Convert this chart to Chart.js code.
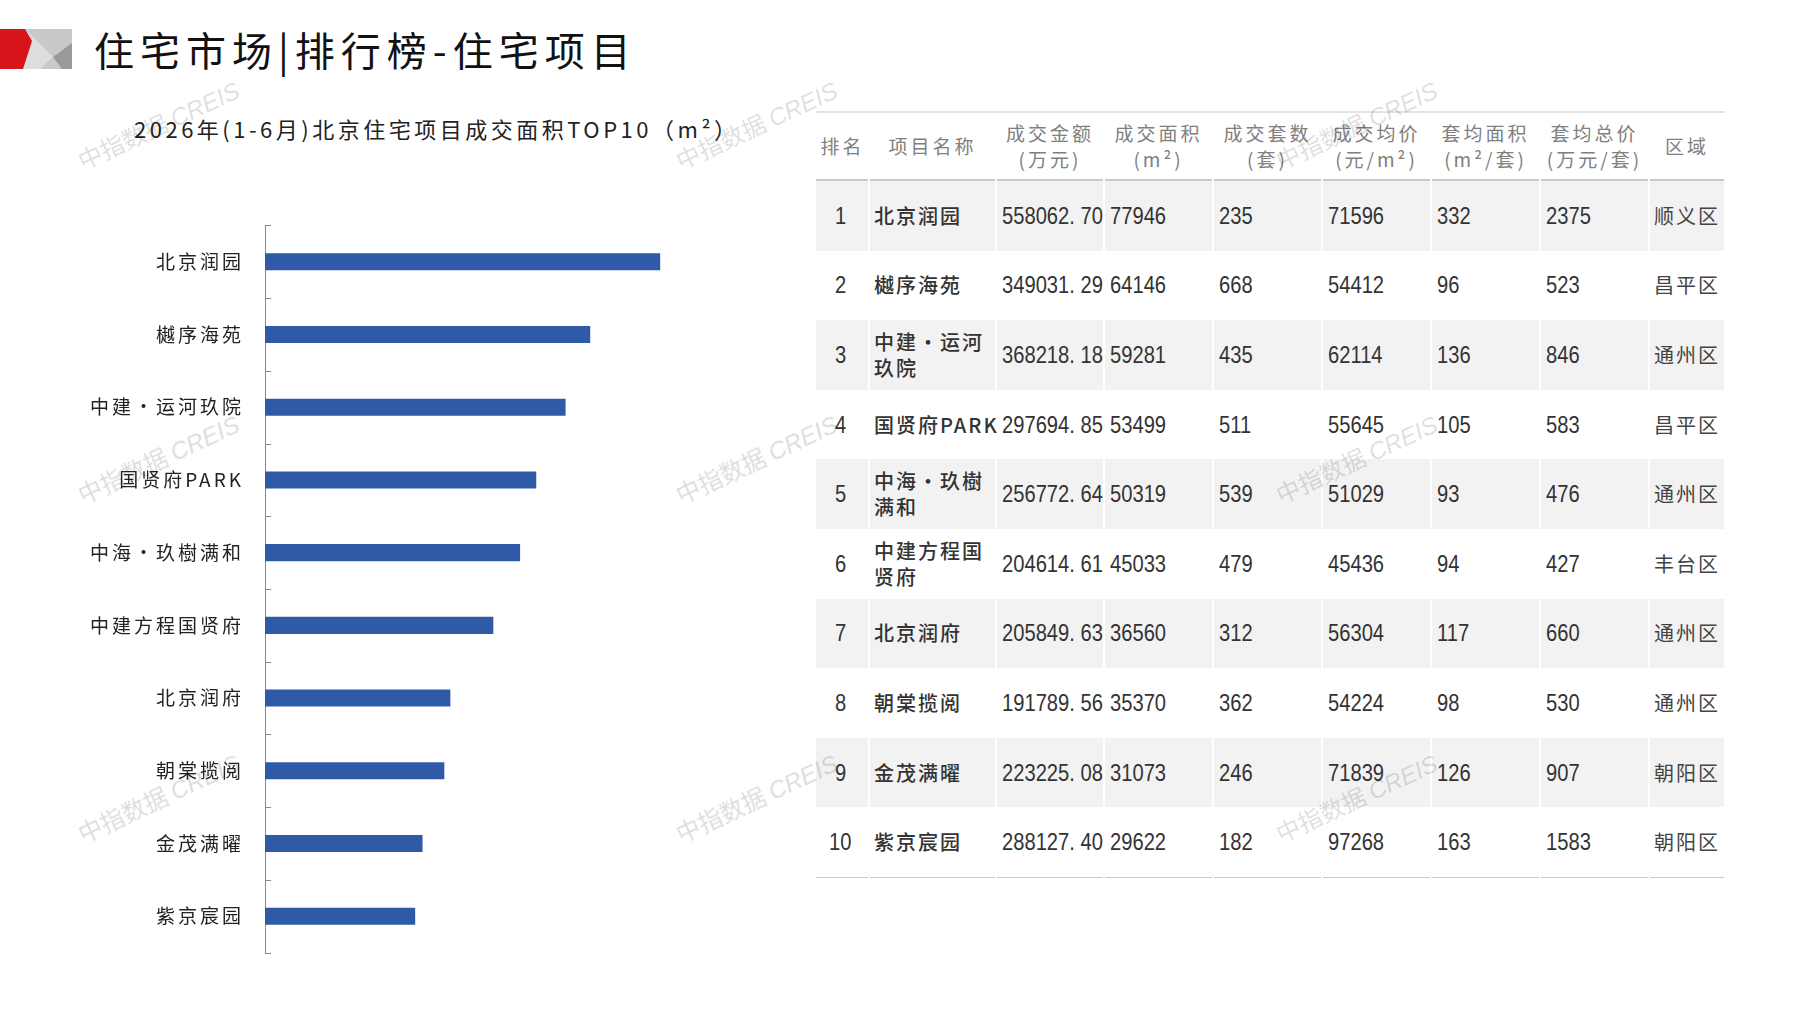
<!DOCTYPE html>
<html>
<head>
<meta charset="utf-8">
<script src="https://cdn.jsdelivr.net/npm/chart.js@4.4.1/dist/chart.umd.min.js"></script>
<style>
body{margin:0;width:1797px;height:1010px;background:#fff;position:relative;overflow:hidden;font-family:"Noto Sans CJK SC",sans-serif;}
#title{position:absolute;left:94px;top:20px;font-size:40px;letter-spacing:6px;color:#111;font-weight:400;}
#subtitle{position:absolute;left:134px;top:112px;font-size:22px;color:#222;letter-spacing:3.5px;}
#chartbox{position:absolute;left:0;top:193px;width:772px;height:792px;}
#tbl{position:absolute;left:816px;top:111px;width:909px;border-collapse:collapse;table-layout:fixed;}
#tbl th{color:#808080;font-weight:400;font-size:19px;line-height:26px;height:66px;padding:0;text-align:center;letter-spacing:3px;}
#tbl thead tr{border-top:2px solid #e3e3e3;border-bottom:2px solid #c8c8c8;}
#tbl td{height:69.6px;padding:0 0 0 5px;font-size:24px;color:#333;font-family:"Liberation Sans",sans-serif;border-right:2px solid #fff;white-space:nowrap;}
#tbl td span.n{display:inline-block;transform:scaleX(0.84);transform-origin:left center;}
#tbl td.cn{font-family:"Noto Sans CJK SC",sans-serif;font-size:20px;letter-spacing:2px;font-weight:500;line-height:26px;white-space:normal;padding-left:4px;}
#tbl td.rk{text-align:center;padding:0;}
#tbl tbody tr:nth-child(odd){background:#f2f2f2;}
#tbl tbody tr:last-child{border-bottom:1px solid #c8c8c8;}
.nm{width:126px;word-break:break-all;}
.wm{position:absolute;font-size:24px;color:rgba(0,0,0,0.14);transform:translate(-50%,-50%) rotate(-25deg);white-space:nowrap;pointer-events:none;font-family:"Noto Sans CJK SC",sans-serif;}
.wm i{font-family:"Liberation Sans",sans-serif;}
</style>
</head>
<body>
<svg style="position:absolute;left:0;top:29px" width="72" height="40">
<rect x="0" y="0" width="72" height="40" fill="#c9c9c9"/>
<polygon points="25,0 53,28 40,40 23,40" fill="#dddddd"/>
<polygon points="72,14 53,28 62,40 72,40" fill="#999999"/>
<polygon points="0,0 25,0 32,12 23,40 0,40" fill="#d7141a"/>
</svg>
<div id="title">住宅市场|排行榜-住宅项目</div>
<div id="subtitle">2026年(1-6月)北京住宅项目成交面积TOP10（m²）</div>
<div id="chartbox"><canvas id="myChart"></canvas></div>
<table id="tbl">
<colgroup>
<col style="width:53px"><col style="width:127px"><col style="width:108px"><col style="width:109px"><col style="width:109px"><col style="width:109px"><col style="width:109px"><col style="width:109px"><col style="width:76px">
</colgroup>
<thead id="thead"></thead>
<tbody id="tbody"></tbody>
</table>
<script>
var projects=["北京润园","樾序海苑","中建·运河玖院","国贤府PARK","中海·玖樹满和","中建方程国贤府","北京润府","朝棠揽阅","金茂满曜","紫京宸园"];
var amount=["558062.70","349031.29","368218.18","297694.85","256772.64","204614.61","205849.63","191789.56","223225.08","288127.40"];
var area=[77946,64146,59281,53499,50319,45033,36560,35370,31073,29622];
var units=[235,668,435,511,539,479,312,362,246,182];
var price=[71596,54412,62114,55645,51029,45436,56304,54224,71839,97268];
var unitArea=[332,96,136,105,93,94,117,98,126,163];
var unitTotal=[2375,523,846,583,476,427,660,530,907,1583];
var district=["顺义区","昌平区","通州区","昌平区","通州区","丰台区","通州区","通州区","朝阳区","朝阳区"];
var headers=["排名","项目名称","成交金额<br>(万元)","成交面积<br>(m²)","成交套数<br>(套)","成交均价<br>(元/m²)","套均面积<br>(m²/套)","套均总价<br>(万元/套)","区域"];

// the dot shows full width in the picture
function showName(p){return p.replace("·","・");}

var th="<tr>";
for(var i=0;i<headers.length;i++){
   th+="<th>"+headers[i]+"</th>";
}
document.getElementById("thead").innerHTML=th+"</tr>";
var txt="";
for(var i=0;i<projects.length;i++){
   txt+="<tr><td class='rk'><span class='n'>"+(i+1)+"</span></td>"+
   "<td class='cn'><div class='nm'>"+showName(projects[i])+"</div></td>"+
   "<td><span class='n'>"+amount[i].replace(".",". ")+"</span></td>"+
   "<td><span class='n'>"+area[i]+"</span></td><td><span class='n'>"+units[i]+"</span></td><td><span class='n'>"+price[i]+"</span></td>"+
   "<td><span class='n'>"+unitArea[i]+"</span></td><td><span class='n'>"+unitTotal[i]+"</span></td>"+
   "<td class='cn' style='font-weight:400;color:#444'>"+district[i]+"</td></tr>";
}
document.getElementById("tbody").innerHTML=txt;

// watermarks
var wmx=[158,756,1356];
var wmy=[124,458,797];
for(var a=0;a<wmx.length;a++){
   for(var b=0;b<wmy.length;b++){
      var w=document.createElement("div");
      w.className="wm";
      w.style.left=wmx[a]+"px";
      w.style.top=wmy[b]+"px";
      w.innerHTML="中指数据 <i>CREIS</i>";
      document.body.appendChild(w);
   }
}

var tickMarks={
   id:"tickMarks",
   beforeDraw:function(chart){
      chart.ctx.letterSpacing="3px";
   },
   afterDraw:function(chart){
      var ys=chart.scales.y;
      var ctx=chart.ctx;
      ctx.save();
      ctx.strokeStyle="#888";
      ctx.lineWidth=1;
      for(var i=0;i<=projects.length;i++){
         var yy=Math.round(ys.getPixelForValue(i-0.5))+0.5;
         ctx.beginPath();
         ctx.moveTo(ys.right,yy);
         ctx.lineTo(ys.right+6,yy);
         ctx.stroke();
      }
      ctx.restore();
   }
};

const data={
   labels:projects.map(showName),
   datasets:[{
      label:"成交面积",
      backgroundColor:"#2f5aa8",
      data:area,
      barPercentage:0.235,
      categoryPercentage:1
   }]
};
const config={
   type:"bar",
   data:data,
   plugins:[tickMarks],
   options:{
      indexAxis:"y",
      responsive:true,
      maintainAspectRatio:false,
      animation:false,
      layout:{padding:{top:10,bottom:10,right:0,left:0}},
      plugins:{legend:{display:false},tooltip:{enabled:false}},
      scales:{
         x:{
            display:false,
            min:0,
            max:100000
         },
         y:{
            afterFit:function(s){s.width=265;},
            grid:{display:false,drawTicks:false},
            border:{display:true,color:"#888",width:1},
            ticks:{
               padding:21,
               color:"#222",
               font:{family:"'Noto Sans CJK SC'",size:19}
            }
         }
      }
   }
};
const myChart=new Chart(document.getElementById("myChart"),config);
</script>
</body>
</html>
